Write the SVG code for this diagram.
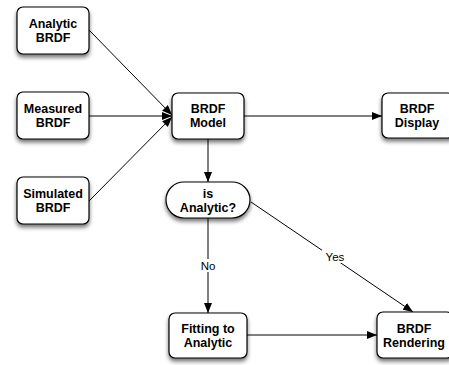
<svg xmlns="http://www.w3.org/2000/svg" width="449" height="365" viewBox="0 0 449 365">
<defs>
<filter id="sh" x="-20%" y="-20%" width="150%" height="160%">
<feGaussianBlur in="SourceAlpha" stdDeviation="2"/>
<feOffset dx="0" dy="3" result="b"/>
<feComponentTransfer><feFuncA type="linear" slope="0.55"/></feComponentTransfer>
<feMerge><feMergeNode/><feMergeNode in="SourceGraphic"/></feMerge>
</filter>
<marker id="ah" viewBox="0 0 10 8" refX="10" refY="4" markerWidth="10" markerHeight="8" markerUnits="userSpaceOnUse" orient="auto">
<path d="M0,0 L10,4 L0,8 Z" fill="#000"/>
</marker>
</defs>
<style>
.box{fill:#fff;stroke:#000;stroke-width:1.2;filter:url(#sh)}
.t{font-family:"Liberation Sans",Arial,sans-serif;font-weight:bold;font-size:12.5px;text-anchor:middle;fill:#000}
.e{fill:none;stroke:#000;stroke-width:1;marker-end:url(#ah)}
.lb{font-family:"Liberation Sans",Arial,sans-serif;font-size:11.5px;text-anchor:middle;fill:#000}
</style>
<rect width="449" height="365" fill="#fff"/>
<g id="connectors">
<path class="e" d="M89,30 L172,115"/>
<path class="e" d="M89,116 L172,116"/>
<path class="e" d="M89,201 L172,117"/>
<path class="e" d="M244,116 L382,116"/>
<path class="e" d="M208,139 L208,182"/>
<path class="e" d="M208,218 L208,313"/>
<path class="e" d="M251,202 L413,312"/>
<path class="e" d="M247,335 L377,335"/>
<rect x="196" y="259" width="24" height="13" fill="#fff"/>
<text class="lb" x="208" y="270">No</text>
<rect x="322" y="250" width="27" height="13" fill="#fff"/>
<text class="lb" x="335" y="261">Yes</text>
</g>
<g id="analytic">
<rect class="box" x="17" y="7" width="72" height="47" rx="6"/>
<text class="t" x="53" y="28">Analytic</text>
<text class="t" x="53" y="42">BRDF</text>
</g>
<g id="measured">
<rect class="box" x="17" y="92" width="72" height="47" rx="6"/>
<text class="t" x="53" y="113">Measured</text>
<text class="t" x="53" y="127">BRDF</text>
</g>
<g id="simulated">
<rect class="box" x="17" y="177" width="72" height="47" rx="6"/>
<text class="t" x="53" y="198">Simulated</text>
<text class="t" x="53" y="212">BRDF</text>
</g>
<g id="model">
<rect class="box" x="172" y="93" width="72" height="46" rx="6"/>
<text class="t" x="208" y="113">BRDF</text>
<text class="t" x="208" y="127">Model</text>
</g>
<g id="display">
<rect class="box" x="382" y="93" width="72" height="45" rx="6"/>
<text class="t" x="417" y="113">BRDF</text>
<text class="t" x="417" y="127">Display</text>
</g>
<g id="isanalytic">
<rect class="box" x="166" y="182" width="84" height="36" rx="18"/>
<text class="t" x="208" y="198">is</text>
<text class="t" x="208" y="212">Analytic?</text>
</g>
<g id="fitting">
<rect class="box" x="169" y="313" width="78" height="45" rx="6"/>
<text class="t" x="208" y="333">Fitting to</text>
<text class="t" x="208" y="347">Analytic</text>
</g>
<g id="rendering">
<rect class="box" x="377" y="312" width="76" height="46" rx="6"/>
<text class="t" x="414" y="333">BRDF</text>
<text class="t" x="414" y="347">Rendering</text>
</g>
</svg>
